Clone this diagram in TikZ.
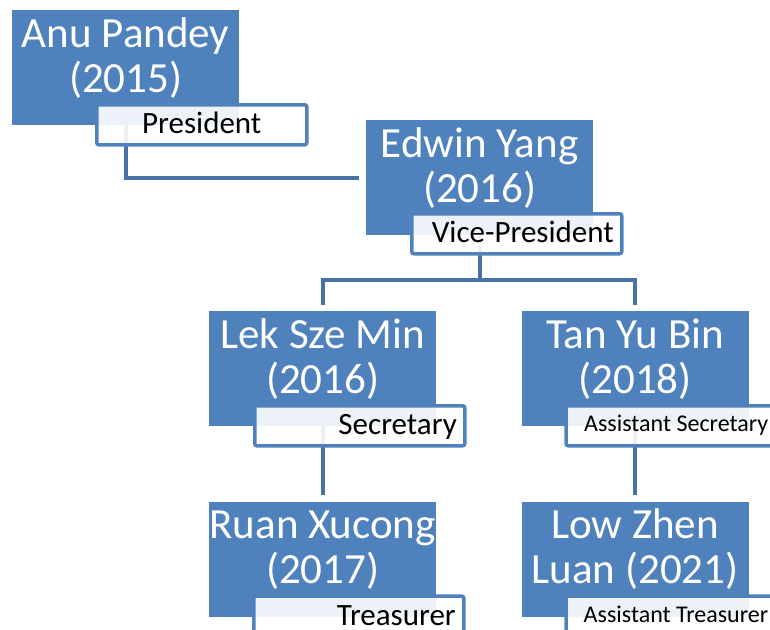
\documentclass[tikz,border=0pt]{standalone}
\usepackage{fontspec}
\setmainfont{Carlito}
\usetikzlibrary{
	positioning,
	calc
}
\definecolor{boxblue}{HTML}{4F81BD}
\definecolor{lineblue}{HTML}{4672A8}

\begin{document}
\begin{tikzpicture}[x=1pt, y=-1pt,
		person/.style={fill=boxblue, text=white, inner sep=0pt, minimum width=227pt, minimum height=115pt,
			text width=227pt, align=flush center, text height=37pt, text depth=78pt, font=\fontsize{43}{45}\selectfont},
		role/.style={draw=boxblue, line width=3.5pt, rounded corners=2pt, fill=white, fill opacity=.9, text opacity=1,
			inner xsep=8pt, inner ysep=0pt, text width=194pt, align=flush right, text height=29pt, text depth=11pt,
			font=\fontsize{31}{35}\selectfont},
		smallrole/.style={font=\fontsize{24}{28}\selectfont, text height=26pt, text depth=14pt},
		link/.style={draw=lineblue, line width=4pt}]

		\useasboundingbox (0,0) rectangle (770,629);
		\clip (0,0) rectangle (770,629);

		% members
		\node[person, anchor=north west] (P) at (12,10) {Anu Pandey\\(2015)};
		\node[person, anchor=north west] (VP) at (366,120) {Edwin Yang\\(2016)};
		\node[person, anchor=north west] (S) at (209,311) {Lek Sze Min\\(2016)};
		\node[person, right=85pt of S] (AS) {Tan Yu Bin\\(2018)};
		\node[person, below=75pt of S] (T) {Ruan Xucong\\(2017)};
		\node[person, below=75pt of AS] (AT) {Low Zhen\\Luan (2021)};

		% connectors
		\coordinate (VPs) at ($(VP.south)+(0,45)$);
		\draw[link] (P.south) |- ([xshift=-7pt]VP.west);
		\draw[link] (VP.south) -- (VPs) -| ([yshift=6pt]S.north);
		\draw[link] (VPs) -| ([yshift=6pt]AS.north);
		\draw[link] (S.south) -- ([yshift=6pt]T.north);
		\draw[link] (AS.south) -- ([yshift=6pt]AT.north);

		% roles
		\node[role, align=flush center, anchor=north west] (Pr) at ($(P.north west)+(83,93)$) {President};
		\node[role, anchor=north west] (VPr) at ($(VP.north west)+(44,92)$) {Vice-President};
		\node[role, anchor=north west] (Sr) at ($(S.north west)+(44,93)$) {Secretary};
		\node[role, smallrole, anchor=north west] (ASr) at ($(AS.north west)+(43,93)$) {Assistant Secretary};
		\node[role, anchor=north west] (Tr) at ($(T.north west)+(43,93)$) {Treasurer};
		\node[role, smallrole, anchor=north west] (ATr) at ($(AT.north west)+(43,93)$) {Assistant Treasurer};

	\end{tikzpicture}
\end{document}
